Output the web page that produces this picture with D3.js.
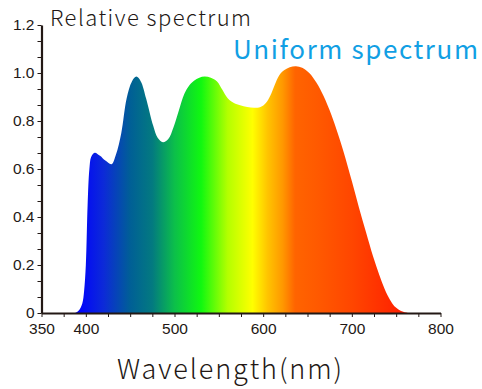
<!DOCTYPE html>
<html>
<head>
<meta charset="utf-8">
<script src="https://cdn.jsdelivr.net/npm/d3@7/dist/d3.min.js"></script>
<style>
  html, body { margin: 0; padding: 0; background: #fff; }
  svg { display: block; }
</style>
</head>
<body>
<div id="chart"></div>
<script>
// spectrum readings (wavelength in nm -> relative intensity)
const wavelengths = [388, 392, 396, 398, 400, 402, 404, 406, 410, 416, 422, 429, 434, 440,
  446, 452, 457, 462, 468, 476, 481, 487, 493, 499, 505, 511, 517, 522, 528, 534, 541,
  548, 554, 560, 567, 574, 582, 590, 597, 603, 608, 613, 618, 624, 630, 637, 644, 652,
  660, 668, 677, 684, 691, 700, 708, 716, 724, 731, 737, 743, 748, 753, 758, 763];
const intensity = [0, 0.01, 0.04, 0.09, 0.2, 0.45, 0.6, 0.65, 0.668, 0.655, 0.635, 0.62,
  0.66, 0.75, 0.894, 0.965, 0.985, 0.965, 0.894, 0.78, 0.73, 0.711, 0.725, 0.775, 0.845,
  0.912, 0.95, 0.968, 0.98, 0.985, 0.98, 0.965, 0.93, 0.895, 0.875, 0.866, 0.858, 0.855,
  0.858, 0.875, 0.905, 0.95, 0.99, 1.012, 1.024, 1.028, 1.022, 1.0, 0.96, 0.905, 0.825,
  0.75, 0.668, 0.55, 0.44, 0.336, 0.235, 0.158, 0.1, 0.055, 0.028, 0.014, 0.005, 0];

// axis ticks
const xTickLabels = [350, 400, 500, 600, 700, 800];
const yTickLabels = [0, 0.2, 0.4, 0.6, 0.8, 1.0, 1.2];

// colour of the fill along the wavelength axis
const gradWl     = [390, 420, 450, 475, 500, 530, 560, 588, 605, 622, 636, 660, 700, 760];
const gradColors = ['#0000ff', '#0c2ad8', '#005f96', '#037a80', '#0cbf4a', '#10f810',
  '#b4ff00', '#ffff00', '#ffc400', '#ff9800', '#ff6400', '#ff5a00', '#ff4600', '#ff1e00'];

const W = 482, H = 389;
const ink = '#231815';

const svg = d3.select('#chart')
  .append('svg')
    .attr('width', W)
    .attr('height', H);

const x = d3.scaleLinear().domain([350, 800]).range([41.5, 440.5]);
const y = d3.scaleLinear().domain([0, 1.2]).range([313, 25]);

// gradient in user space so stops follow the x scale
const grad = svg.append('defs')
  .append('linearGradient')
    .attr('id', 'spec')
    .attr('gradientUnits', 'userSpaceOnUse')
    .attr('x1', x(gradWl[0])).attr('x2', x(gradWl[gradWl.length - 1]))
    .attr('y1', 0).attr('y2', 0);

grad.selectAll('stop')
  .data(gradWl)
  .join('stop')
    .attr('offset', d => (d - gradWl[0]) / (gradWl[gradWl.length - 1] - gradWl[0]))
    .attr('stop-color', (d, i) => gradColors[i]);

const pts = wavelengths.map((w, i) => ({ w, v: intensity[i] }));

const area = d3.area()
  .x(d => x(d.w))
  .y0(y(0))
  .y1(d => Math.min(y(0), y(d.v)))
  .curve(d3.curveCatmullRom.alpha(0.5));

svg.append('path')
  .datum(pts)
  .attr('d', area)
  .attr('fill', 'url(#spec)');

// x axis: minor ticks every 25 nm, labels only at the listed values
const xAxis = d3.axisBottom(x)
  .tickValues(d3.range(350, 801, 25))
  .tickSize(4)
  .tickSizeOuter(0)
  .tickFormat(d => xTickLabels.includes(d) ? d : '');

const gx = svg.append('g')
  .attr('transform', `translate(0,${y(0)})`)
  .call(xAxis);

// y axis: minor ticks every third of 0.2
const yAxis = d3.axisLeft(y)
  .tickValues(d3.range(0, 19).map(i => i * 0.2 / 3))
  .tickSize(4)
  .tickSizeOuter(0)
  .tickFormat(d => {
    const hit = yTickLabels.find(t => Math.abs(t - d) < 1e-6);
    if (hit === undefined) return '';
    return hit === 0 ? '0' : hit.toFixed(1);
  });

const gy = svg.append('g')
  .attr('transform', `translate(${x(350)},0)`)
  .call(yAxis);

[gx, gy].forEach(g => {
  g.select('.domain').attr('stroke', ink).attr('stroke-width', 2.2);
  g.selectAll('.tick line').attr('stroke', ink).attr('stroke-width', 1);
  g.selectAll('.tick text')
    .attr('fill', ink)
    .style('font-family', '"Liberation Sans", Arial, sans-serif')
    .style('font-size', '15.5px');
});
gx.selectAll('.tick text').attr('y', 7).attr('dy', '0.9em');
gy.selectAll('.tick text').attr('x', -7);

// titles
const titleFont = '"Noto Sans CJK SC", "Noto Sans", sans-serif';

svg.append('text')
  .attr('x', 50).attr('y', 26)
  .attr('fill', ink)
  .attr('textLength', 201)
  .attr('lengthAdjust', 'spacing')
  .style('font-family', titleFont)
  .style('font-weight', 300)
  .style('font-size', '22px')
  .text('Relative spectrum');

svg.append('text')
  .attr('x', 233).attr('y', 59)
  .attr('fill', '#119fe4')
  .attr('textLength', 245)
  .attr('lengthAdjust', 'spacing')
  .style('font-family', titleFont)
  .style('font-weight', 400)
  .style('font-size', '26px')
  .text('Uniform spectrum');

svg.append('text')
  .attr('x', 117).attr('y', 379)
  .attr('fill', ink)
  .attr('textLength', 225)
  .attr('lengthAdjust', 'spacing')
  .style('font-family', titleFont)
  .style('font-weight', 300)
  .style('font-size', '27px')
  .text('Wavelength(nm)');
</script>
</body>
</html>
